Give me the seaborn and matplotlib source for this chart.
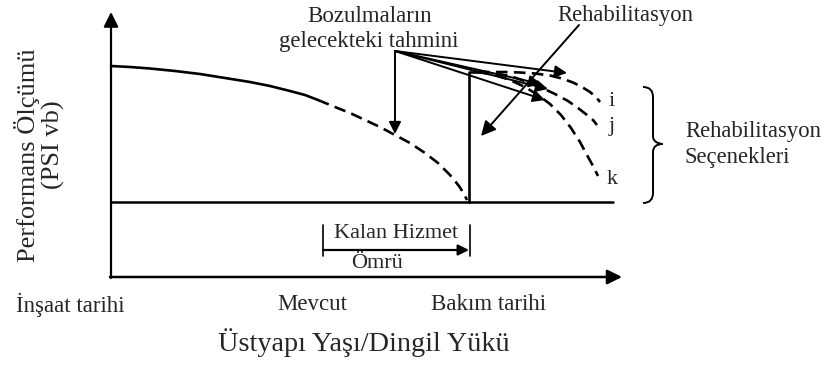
import matplotlib
matplotlib.use("Agg")
import matplotlib.pyplot as plt
import seaborn as sns
from matplotlib.path import Path
from matplotlib.patches import PathPatch

sns.set_theme(style="white")
plt.rcParams["font.family"] = ["Liberation Serif", "DejaVu Serif"]

# Diagram drawn on a pixel-like canvas (origin at top-left)
W, H = 824, 365

# Pavement performance curve: observed (solid) and predicted (dashed)
obs_x = [111, 130, 150, 175, 200, 225, 250, 270, 290, 305, 318]
obs_y = [66, 67, 68.5, 71, 74, 78, 82, 86, 91, 95, 100]
pred_x = [318, 335, 350, 365, 380, 395, 410, 425, 438, 450, 459, 464, 467]
pred_y = [100, 107, 113, 120, 127, 135, 143, 153, 163, 175, 186, 194, 200]

# Terminal serviceability level and rehabilitation jump
terminal_x = [111, 613]
terminal_y = [202, 202]
rehab_x = [469, 469, 478]
rehab_y = [202, 72, 72]

# Rehabilitation option curves
opt_i_x = [478, 490, 505, 520, 535, 550, 562, 573, 582, 590, 596, 600]
opt_i_y = [72, 72, 72, 72.5, 73.5, 75.5, 78.5, 82.5, 87, 92, 97, 102]
opt_j_x = [478, 495, 510, 525, 540, 555, 568, 578, 587, 593, 597]
opt_j_y = [72, 73.5, 76, 81, 87, 94, 101, 108, 115, 120, 125]
opt_k_x = [478, 495, 510, 525, 538, 550, 561, 571, 580, 587, 593, 598]
opt_k_y = [72, 75, 80, 87, 95, 104, 115, 128, 142, 155, 166, 176]

# Option labels
opt_labels = ["i", "j", "k"]
opt_label_x = [612, 612, 612]
opt_label_y = [102, 127, 180]

# Time axis labels
tick_labels = ["İnşaat tarihi", "Mevcut", "Bakım tarihi"]
tick_x = [70, 312, 489]
tick_y = 305

# Arrows from the prediction note
note_src = (395, 51)
note_targets = [(395, 134), (567, 73), (541, 84), (548, 89), (545, 100)]

DASH = (0, (4.4, 2.4))
LW = 1.9
LINE = dict(color="black", sort=False, estimator=None, errorbar=None)

fig = plt.figure(figsize=(W / 100, H / 100), dpi=100)
ax = fig.add_axes([0, 0, 1, 1])
ax.set_xlim(0, W)
ax.set_ylim(H, 0)
ax.axis("off")

# Axes of the diagram
ax.annotate("", xy=(111, 12), xytext=(111, 278),
            arrowprops=dict(arrowstyle="-|>", color="black", lw=1.6,
                            mutation_scale=22, shrinkA=0, shrinkB=0))
ax.annotate("", xy=(622, 277), xytext=(110, 277),
            arrowprops=dict(arrowstyle="-|>", color="black", lw=1.8,
                            mutation_scale=22, shrinkA=0, shrinkB=0))

# Curves
sns.lineplot(x=obs_x, y=obs_y, ax=ax, lw=LW, **LINE)
sns.lineplot(x=pred_x, y=pred_y, ax=ax, lw=LW, linestyle=DASH, **LINE)
sns.lineplot(x=terminal_x, y=terminal_y, ax=ax, lw=1.8, **LINE)
sns.lineplot(x=rehab_x, y=rehab_y, ax=ax, lw=LW, **LINE)
for xs, ys in [(opt_i_x, opt_i_y), (opt_j_x, opt_j_y), (opt_k_x, opt_k_y)]:
    sns.lineplot(x=xs, y=ys, ax=ax, lw=LW, linestyle=DASH, **LINE)

for lab, lx, ly in zip(opt_labels, opt_label_x, opt_label_y):
    ax.text(lx, ly, lab, fontsize=16, ha="center", va="center")

# Prediction note and its arrows
ax.text(370, 17, "Bozulmaların", fontsize=16.5, ha="center", va="center")
ax.text(369, 42, "gelecekteki tahmini", fontsize=16.5, ha="center", va="center")
for tx, ty in note_targets:
    ax.annotate("", xy=(tx, ty), xytext=note_src,
                arrowprops=dict(arrowstyle="-|>", color="black", lw=1.4,
                                mutation_scale=18, shrinkA=0, shrinkB=0))

# Rehabilitation note
ax.text(625, 16, "Rehabilitasyon", fontsize=16.3, ha="center", va="center")
ax.annotate("", xy=(481, 136), xytext=(579, 25),
            arrowprops=dict(arrowstyle="-|>", color="black", lw=1.4,
                            mutation_scale=22, shrinkA=0, shrinkB=0))

# Brace grouping the rehabilitation options
top, mid, bot = 87, 144, 203
xl, xm, xt = 643, 653, 663
verts = [(xl, top), (xm, top), (xm, top + 10),
         (xm, mid - 8),
         (xm, mid), (xt, mid), (xt, mid),
         (xm, mid), (xm, mid + 8),
         (xm, bot - 10),
         (xm, bot), (xl, bot)]
codes = [Path.MOVETO, Path.CURVE3, Path.CURVE3,
         Path.LINETO,
         Path.CURVE4, Path.CURVE4, Path.CURVE4,
         Path.CURVE3, Path.CURVE3,
         Path.LINETO,
         Path.CURVE3, Path.CURVE3]
ax.add_patch(PathPatch(Path(verts, codes), fill=False, lw=1.4, color="black"))
ax.text(685, 132, "Rehabilitasyon", fontsize=16.3, ha="left", va="center")
ax.text(685, 157, "Seçenekleri", fontsize=16.3, ha="left", va="center")

# Remaining service life bracket
ax.plot([323, 323], [225, 256], color="black", lw=1.2)
ax.plot([470, 470], [225, 256], color="black", lw=1.2)
ax.annotate("", xy=(469, 250), xytext=(323, 250),
            arrowprops=dict(arrowstyle="-|>", color="black", lw=1.6,
                            mutation_scale=16, shrinkA=0, shrinkB=0))
ax.text(396, 234, "Kalan Hizmet", fontsize=16, ha="center", va="center")
ax.text(377, 264, "Ömrü", fontsize=16, ha="center", va="center")

# Axis labels
for lab, tx in zip(tick_labels, tick_x):
    ax.text(tx, tick_y, lab, fontsize=16.5, ha="center", va="center")
ax.text(364, 343, "Üstyapı Yaşı/Dingil Yükü", fontsize=20.3,
        ha="center", va="center")
ax.text(27, 155, "Performans Ölçümü", fontsize=19, rotation=90,
        ha="center", va="center")
ax.text(53, 145, "(PSI vb)", fontsize=19, rotation=90,
        ha="center", va="center")

fig.savefig("out.png", dpi=100, facecolor="white")
